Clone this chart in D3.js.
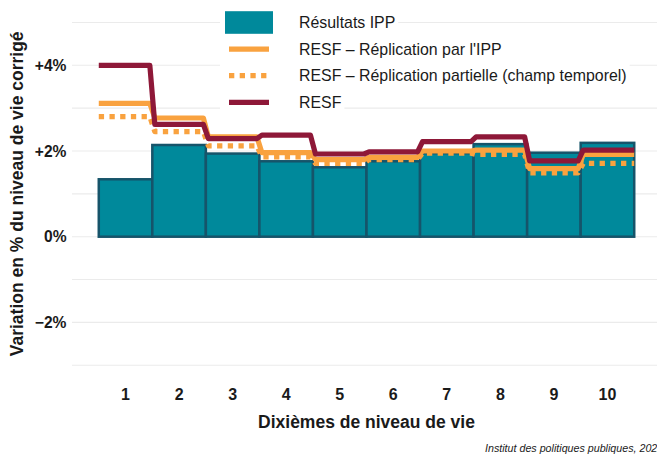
<html lang="fr">
  <head>
    <meta charset="UTF-8" />
    <title>Variation du niveau de vie par dixième</title>
    <script src="https://d3js.org/d3.v7.min.js"></script>
  </head>
  <style>
    body {
      margin: 0;
      overflow: hidden;
      background: white;
    }

    svg {
      font-family: "Liberation Sans", Arial, sans-serif;
    }

    .grid line {
      stroke: #ebebeb;
      stroke-width: 1.1px;
    }

    .tick-label {
      font-weight: bold;
      fill: #1a1a1a;
    }

    .axis-title {
      font-weight: bold;
      font-size: 17.5px;
      fill: #1a1a1a;
    }

    .legend text {
      font-size: 15.9px;
      fill: #1a1a1a;
    }
  </style>
  <body>
    <div id="viz"></div>
  </body>
  <footer>
    <script>
      // dixiemes de niveau de vie
      var deciles = [1, 2, 3, 4, 5, 6, 7, 8, 9, 10];
      // variation en %
      var ippValues = [1.34, 2.14, 1.94, 1.76, 1.62, 1.76, 1.95, 2.16, 1.96, 2.19];
      var resfReplication = [3.11, 2.77, 2.33, 1.96, 1.8, 1.85, 2.0, 2.02, 1.59, 1.92];
      var resfPartielle = [2.8, 2.45, 2.12, 1.86, 1.71, 1.8, 1.95, 1.92, 1.49, 1.71];
      var resfValues = [4.0, 2.62, 2.29, 2.37, 1.93, 1.98, 2.22, 2.33, 1.77, 2.02];

      var yTicks = [-2, 0, 2, 4];
      var gridValues = [-3, -2, -1, 0, 1, 2, 3, 4, 5];

      var legendLabels = [
        "Résultats IPP",
        "RESF – Réplication par l'IPP",
        "RESF – Réplication partielle (champ temporel)",
        "RESF",
      ];

      var teal = "#00899b";
      var tealDark = "#16546a";
      var orange = "#f9a23f";
      var crimson = "#8e1838";

      var width = 657,
        height = 457;

      var svg = d3
        .select("#viz")
        .append("svg")
        .attr("width", width)
        .attr("height", height);

      var x = d3
        .scaleBand()
        .domain(deciles)
        .range([72, 661])
        .paddingInner(0)
        .paddingOuter(0.5);

      var y = d3.scaleLinear().domain([-3.5, 5.5]).range([386.7, 1]);

      // grille
      svg
        .append("g")
        .attr("class", "grid")
        .selectAll("line")
        .data(gridValues)
        .enter()
        .append("line")
        .attr("x1", x.range()[0])
        .attr("x2", x.range()[1])
        .attr("y1", function (d) {
          return y(d);
        })
        .attr("y2", function (d) {
          return y(d);
        });

      // barres IPP
      svg
        .append("g")
        .selectAll("rect")
        .data(deciles)
        .enter()
        .append("rect")
        .attr("x", function (d) {
          return x(d);
        })
        .attr("width", x.bandwidth())
        .attr("y", function (d, i) {
          return y(ippValues[i]);
        })
        .attr("height", function (d, i) {
          return y(0) - y(ippValues[i]);
        })
        .style("fill", teal)
        .style("stroke", tealDark)
        .style("stroke-width", 2.5);

      // courbes en escalier
      var slant = 2.5;
      function stepPoints(values) {
        var pts = [];
        deciles.forEach(function (d, i) {
          var x0 = x(d) + (i == 0 ? 0 : slant);
          var x1 = x(d) + x.bandwidth() - (i == deciles.length - 1 ? 0 : slant);
          pts.push([x0, y(values[i])]);
          pts.push([x1, y(values[i])]);
        });
        return pts;
      }

      var line = d3.line();

      var series = [
        { values: resfReplication, color: orange, dash: null },
        { values: resfPartielle, color: orange, dash: "5.3,5.4" },
        { values: resfValues, color: crimson, dash: null },
      ];

      svg
        .append("g")
        .selectAll("path")
        .data(series)
        .enter()
        .append("path")
        .attr("d", function (s) {
          return line(stepPoints(s.values));
        })
        .style("fill", "none")
        .style("stroke", function (s) {
          return s.color;
        })
        .style("stroke-width", 5.2)
        .style("stroke-linejoin", "round")
        .style("stroke-dasharray", function (s) {
          return s.dash;
        });

      // axe y
      svg
        .append("g")
        .selectAll("text")
        .data(yTicks)
        .enter()
        .append("text")
        .attr("class", "tick-label")
        .attr("x", 66.5)
        .attr("y", function (d) {
          return y(d);
        })
        .attr("dy", "0.36em")
        .style("font-size", "15.6px")
        .style("text-anchor", "end")
        .text(function (d) {
          return d > 0 ? "+" + d + "%" : d < 0 ? "\u2212" + Math.abs(d) + "%" : "0%";
        });

      // axe x
      svg
        .append("g")
        .selectAll("text")
        .data(deciles)
        .enter()
        .append("text")
        .attr("class", "tick-label")
        .attr("x", function (d) {
          return x(d) + x.bandwidth() / 2;
        })
        .attr("y", 399.5)
        .style("font-size", "16px")
        .style("text-anchor", "middle")
        .text(function (d) {
          return d;
        });

      svg
        .append("text")
        .attr("class", "axis-title")
        .attr("x", (x.range()[0] + x.range()[1]) / 2)
        .attr("y", 428)
        .style("text-anchor", "middle")
        .text("Dixièmes de niveau de vie");

      svg
        .append("text")
        .attr("class", "axis-title")
        .attr("transform", "translate(23," + y(1) + ") rotate(-90)")
        .style("text-anchor", "middle")
        .text("Variation en % du niveau de vie corrigé");

      svg
        .append("text")
        .attr("x", 485)
        .attr("y", 452)
        .style("font-size", "10.7px")
        .style("font-style", "italic")
        .style("fill", "#1a1a1a")
        .text("Institut des politiques publiques, 2022");

      // légende
      var rowH = 26.6;
      var legend = svg
        .append("g")
        .attr("class", "legend")
        .selectAll("g")
        .data(legendLabels)
        .enter()
        .append("g")
        .attr("transform", function (d, i) {
          return "translate(220," + (22.5 + i * rowH) + ")";
        });

      var bg = legend
        .append("rect")
        .attr("y", -rowH / 2)
        .attr("height", rowH)
        .style("fill", "white");

      legend
        .append("text")
        .attr("x", 79)
        .attr("dy", "0.36em")
        .text(function (d) {
          return d;
        });

      bg.attr("width", function () {
        return 79 + this.parentNode.querySelector("text").getComputedTextLength() + 3;
      });

      legend
        .filter(function (d, i) {
          return i == 0;
        })
        .append("rect")
        .attr("x", 5)
        .attr("y", -11.3)
        .attr("width", 48)
        .attr("height", 22.6)
        .style("fill", teal);

      legend
        .filter(function (d, i) {
          return i > 0;
        })
        .append("line")
        .attr("x1", 9)
        .attr("x2", 49)
        .style("stroke", function (d, i) {
          return series[i].color;
        })
        .style("stroke-width", 5.2)
        .style("stroke-dasharray", function (d, i) {
          return series[i].dash;
        });
    </script>
  </footer>
</html>
